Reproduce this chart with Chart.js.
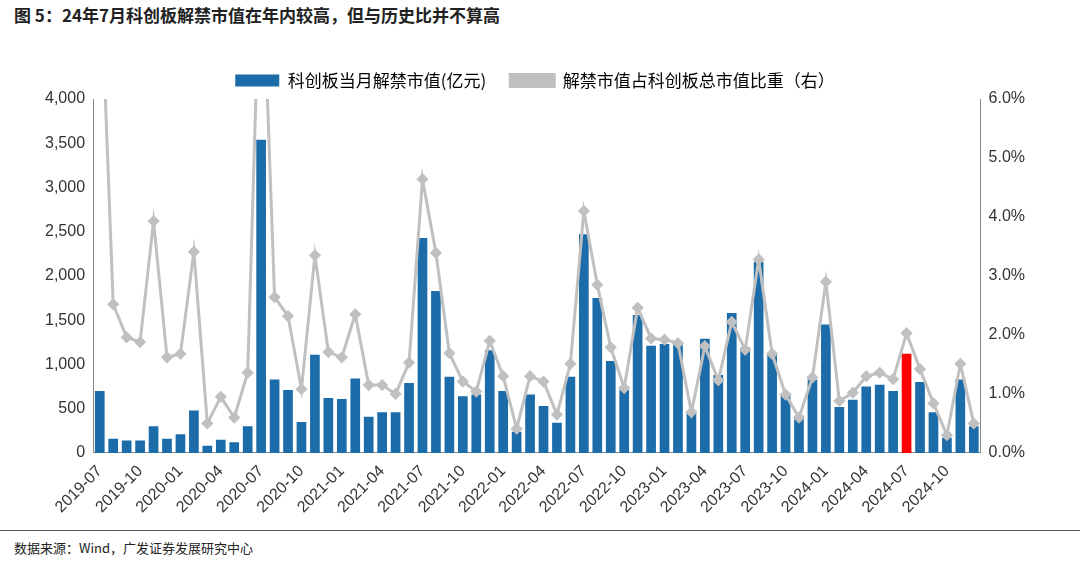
<!DOCTYPE html>
<html><head><meta charset="utf-8">
<script src="https://cdn.jsdelivr.net/npm/chart.js@4"></script>
<style>
body{margin:0;width:1080px;height:561px;background:#fff;font-family:"Noto Sans CJK SC","Liberation Sans",sans-serif;position:relative;overflow:hidden}
#title{position:absolute;left:14px;top:2px;font-size:17px;font-weight:bold;color:#222}
#rule2{position:absolute;left:0;right:0;top:530px;border-top:1px solid #555}
#src{position:absolute;left:14px;top:538px;font-size:13px;color:#222}
#wrap{position:absolute;left:0;top:48px;width:1080px;height:478px}
</style></head><body>
<div id="title">图 5：24年7月科创板解禁市值在年内较高，但与历史比并不算高</div>
<div id="wrap"><canvas id="c"></canvas></div>
<div id="rule2"></div>
<div id="src">数据来源：Wind，广发证券发展研究中心</div>
<script>
const months=[];
for(let y=2019,m=7;!(y===2025&&m===1);){months.push(y+'-'+String(m).padStart(2,'0'));m++;if(m>12){m=1;y++;}}
const unlockValue=[700,160,140,140,300,160,210,480,80,150,120,300,3540,830,710,350,1110,620,610,840,410,460,460,790,2430,1830,860,640,660,1160,700,240,660,530,340,860,2470,1750,1040,710,1560,1210,1230,1230,450,1290,880,1580,1190,2160,1110,650,420,830,1450,520,600,750,770,700,1120,800,460,170,830,300];
const unlockRatio=[8.5,2.52,1.96,1.88,3.93,1.62,1.68,3.41,0.50,0.95,0.60,1.36,9.0,2.64,2.32,1.08,3.35,1.71,1.62,2.35,1.15,1.15,1.0,1.53,4.64,3.39,1.69,1.21,1.04,1.90,1.30,0.41,1.30,1.21,0.65,1.51,4.10,2.85,1.79,1.10,2.46,1.94,1.92,1.86,0.69,1.81,1.23,2.22,1.75,3.28,1.68,0.99,0.60,1.28,2.90,0.88,1.02,1.30,1.36,1.25,2.03,1.42,0.84,0.30,1.51,0.50];
const highlight='2024-07';
const barColors=months.map(m=>m===highlight?'#ff0000':'#1b6ca8');
new Chart(document.getElementById('c'),{
data:{labels:months,datasets:[
{type:'line',label:'解禁市值占科创板总市值比重（右）',data:unlockRatio,yAxisID:'y1',borderColor:'#c0c0c0',backgroundColor:'#c0c0c0',borderWidth:3,pointStyle:'rectRot',pointRadius:4,pointBackgroundColor:'#c0c0c0',pointBorderColor:'#c0c0c0',tension:0,order:0},
{type:'bar',label:'科创板当月解禁市值(亿元)',data:unlockValue,yAxisID:'y',backgroundColor:barColors,categoryPercentage:0.72,barPercentage:1,order:1}
]},
options:{responsive:true,maintainAspectRatio:false,animation:false,
layout:{padding:{left:42,right:52,top:0,bottom:6}},
plugins:{legend:{labels:{font:{size:17,family:'"Noto Sans CJK SC"'},color:'#333',boxWidth:44,boxHeight:12,padding:24,
generateLabels(ch){const d=ch.data.datasets;return [
{text:d[1].label,fillStyle:'#1b6ca8',strokeStyle:'#1b6ca8',lineWidth:0,datasetIndex:1},
{text:d[0].label,fillStyle:'#c0c0c0',strokeStyle:'#c0c0c0',lineWidth:3,datasetIndex:0}];}}},
tooltip:{enabled:false}},
scales:{
x:{offset:true,grid:{display:false,drawTicks:true,offset:true,tickLength:6,color:'#888'},border:{color:'#888'},
ticks:{autoSkip:false,maxRotation:45,minRotation:45,color:'#333',font:{size:16,family:'"Liberation Sans"'},
callback(v,i){return i%3===0?months[i]:'';}}},
y:{position:'left',min:0,max:4000,grid:{display:false,tickLength:5},border:{color:'#888'},
ticks:{stepSize:500,color:'#333',font:{size:16,family:'"Liberation Sans"'},callback:v=>v.toLocaleString('en-US')}},
y1:{position:'right',min:0,max:6,grid:{display:false,tickLength:5},border:{color:'#888'},
ticks:{stepSize:1,color:'#333',font:{size:16,family:'"Liberation Sans"'},callback:v=>v.toFixed(1)+'%'}}
}}});
</script></body></html>
